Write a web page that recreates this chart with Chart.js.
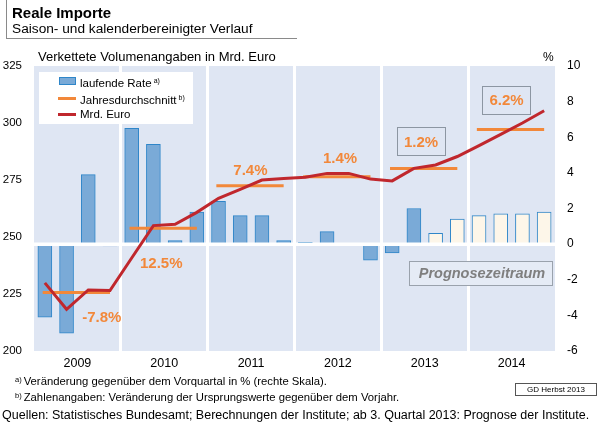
<!DOCTYPE html>
<html lang="de">
<head>
<meta charset="UTF-8">
<title>Reale Importe</title>
<script src="https://cdn.jsdelivr.net/npm/chart.js"></script>
<style>
  body { margin: 0; background: #fff; font-family: Arial, "Liberation Sans", sans-serif; color: #000; }
  #page { position: relative; width: 603px; height: 425px; overflow: hidden; }
  #page canvas { position: absolute; left: 0; top: 0; }
  .abs { position: absolute; white-space: nowrap; }
  .titlebox { left: 6px; top: 0; width: 290px; height: 38px; border-left: 1px solid #8a8a8a; border-bottom: 1px solid #8a8a8a; }
  .title { left: 12px; top: 4px; font-weight: bold; font-size: 15px; }
  .subtitle { left: 12px; top: 21px; font-size: 13.7px; }
  .unitL { left: 38px; top: 49px; font-size: 13px; }
  .unitR { left: 543px; top: 50px; font-size: 12px; }
  #legend { left: 39px; top: 72px; width: 154px; height: 52px; background: #fff; font-size: 11.5px; }
  #legend .row { position: absolute; left: 0; height: 14px; line-height: 14px; }
  #legend sup { font-size: 7px; vertical-align: 4px; margin-left: 2px; }
  .note { left: 15px; font-size: 11.3px; }
  .note sup { font-size: 7.5px; vertical-align: 3px; margin-right: 2px; }
  .src { left: 2px; top: 408px; font-size: 12.5px; }
  .gd { left: 515px; top: 383px; width: 80px; height: 11px; border: 1px solid #555; font-size: 8px; line-height: 11px; text-align: center; }
</style>
</head>
<body>
<div id="page">
  <canvas id="chart" width="603" height="425"></canvas>
  <div class="abs titlebox"></div>
  <div class="abs title">Reale Importe</div>
  <div class="abs subtitle">Saison- und kalenderbereinigter Verlauf</div>
  <div class="abs unitL">Verkettete Volumenangaben in Mrd. Euro</div>
  <div class="abs unitR">%</div>
  <div class="abs" id="legend"></div>
  <div class="abs note" style="top:375px"><sup>a)</sup>Veränderung gegenüber dem Vorquartal in % (rechte Skala).</div>
  <div class="abs note" style="top:391px"><sup>b)</sup>Zahlenangaben: Veränderung der Ursprungswerte gegenüber dem Vorjahr.</div>
  <div class="abs src">Quellen: Statistisches Bundesamt; Berechnungen der Institute; ab 3. Quartal 2013: Prognose der Institute.</div>
  <div class="abs gd">GD Herbst 2013</div>
</div>

<script>
// Daten (Quartale 2009 Q1 bis 2014 Q4)
const years = ['2009', '2010', '2011', '2012', '2013', '2014'];
// laufende Rate in % (rechte Skala)
const rate = [-4.1, -5.0, 3.9, -0.1, 6.5, 5.6, 0.2, 1.8, 2.4, 1.6, 1.6, 0.2,
              0.1, 0.7, 0.0, -0.9, -0.5, 2.0, 0.6, 1.4, 1.6, 1.7, 1.7, 1.8];
// Mrd. Euro (linke Skala)
const level = [229.9, 218.3, 226.8, 226.5, 240.8, 255.0, 255.6, 260.8, 267.0, 270.9, 275.0, 275.7,
               276.2, 277.9, 277.9, 275.4, 274.6, 280.1, 281.6, 285.3, 290.1, 295.0, 300.0, 305.4];
// Jahresdurchschnitt (linke Skala)
const yearAvg = [225.7, 253.8, 272.5, 276.4, 280.0, 297.2];
// Veränderung gegenüber Vorjahr
const yearRate = ['-7.8%', '12.5%', '7.4%', '1.4%', '1.2%', '6.2%'];
const firstForecast = 18; // ab 3. Quartal 2013

const leftTicks = [200, 225, 250, 275, 300, 325];
const rightTicks = [-6, -4, -2, 0, 2, 4, 6, 8, 10];

// Platzierung der Beschriftungen (x in Quartalen, y in Mrd. Euro)
const notePos = [[3.12, 214.9], [5.86, 238.6], [9.97, 279.4], [14.1, 284.9], [17.83, 291.9], [21.77, 310.1]];
const noteBoxed = [false, false, false, false, true, true];

const blue = '#7aaad7';
const blueEdge = '#2f86c9';
const cream = '#fdf6e9';
const orange = '#f2883a';
const red = '#c0272d';
const bg = '#dfe6f3';

const barData = rate.map((v, i) => ({ x: i + 0.5, y: v }));
const lineData = level.map((v, i) => ({ x: i + 0.5, y: v }));
const avgData = [];
yearAvg.forEach((v, k) => {
  avgData.push({ x: k * 4 + 0.4, y: v });
  avgData.push({ x: k * 4 + 3.5, y: v });
  avgData.push({ x: k * 4 + 3.9, y: null });
});

const bgPlugin = {
  id: 'bg',
  beforeDraw(chart) {
    const a = chart.chartArea, ctx = chart.ctx;
    ctx.save();
    ctx.fillStyle = bg;
    ctx.fillRect(a.left, a.top, a.right - a.left, a.bottom - a.top);
    ctx.restore();
  }
};

// weisse Nulllinie zwischen Balken und Linien
const zeroPlugin = {
  id: 'zero',
  afterDatasetDraw(chart, args) {
    if (args.index !== 0) return;
    const a = chart.chartArea, ctx = chart.ctx;
    const y = chart.scales.yR.getPixelForValue(0);
    ctx.save();
    ctx.strokeStyle = '#fff';
    ctx.lineWidth = 3.5;
    ctx.beginPath();
    ctx.moveTo(a.left, y);
    ctx.lineTo(a.right, y);
    ctx.stroke();
    ctx.restore();
  }
};

const notesPlugin = {
  id: 'notes',
  afterDatasetsDraw(chart) {
    const ctx = chart.ctx, sx = chart.scales.x, sy = chart.scales.yL;
    ctx.save();
    ctx.font = 'bold 15px Arial, "Liberation Sans", sans-serif';
    ctx.textAlign = 'center';
    ctx.textBaseline = 'middle';
    yearRate.forEach((t, i) => {
      const px = sx.getPixelForValue(notePos[i][0]);
      const py = sy.getPixelForValue(notePos[i][1]);
      if (noteBoxed[i]) {
        const w = ctx.measureText(t).width + 14;
        ctx.strokeStyle = '#8c96a2';
        ctx.lineWidth = 1;
        ctx.strokeRect(Math.round(px - w / 2) + 0.5, Math.round(py - 14) + 0.5, Math.round(w), 28);
      }
      ctx.fillStyle = orange;
      ctx.fillText(t, px, py + 1);
    });
    // Prognosezeitraum
    const x0 = sx.getPixelForValue(17.29), x1 = sx.getPixelForValue(23.89);
    const y0 = sy.getPixelForValue(239.5), y1 = sy.getPixelForValue(228.9);
    ctx.fillStyle = '#e5ebf5';
    ctx.fillRect(x0, y0, x1 - x0, y1 - y0);
    ctx.strokeStyle = '#9aa2ac';
    ctx.strokeRect(Math.round(x0) + 0.5, Math.round(y0) + 0.5, Math.round(x1 - x0), Math.round(y1 - y0));
    ctx.font = 'italic bold 14.5px Arial, "Liberation Sans", sans-serif';
    ctx.fillStyle = '#7f7f7f';
    ctx.fillText('Prognosezeitraum', (x0 + x1) / 2 + 1, (y0 + y1) / 2 + 1);
    ctx.restore();
  }
};

const chart = new Chart(document.getElementById('chart'), {
  type: 'bar',
  data: {
    datasets: [
      {
        type: 'bar',
        label: 'laufende Rate',
        data: barData,
        yAxisID: 'yR',
        backgroundColor: barData.map((d, i) => i >= firstForecast ? cream : blue),
        borderColor: blueEdge,
        borderWidth: 1,
        barThickness: 14,
        order: 3
      },
      {
        type: 'line',
        label: 'Jahresdurchschnitt',
        data: avgData,
        yAxisID: 'yL',
        borderColor: orange,
        borderWidth: 3,
        pointRadius: 0,
        spanGaps: false,
        order: 2
      },
      {
        type: 'line',
        label: 'Mrd. Euro',
        data: lineData,
        yAxisID: 'yL',
        borderColor: red,
        borderWidth: 3,
        pointRadius: 0,
        tension: 0,
        order: 1
      }
    ]
  },
  options: {
    responsive: false,
    animation: false,
    layout: { padding: { top: 66, bottom: 50, left: 0, right: 0 } },
    plugins: { legend: { display: false }, tooltip: { enabled: false } },
    scales: {
      x: {
        type: 'linear',
        min: 0,
        max: 24,
        offset: false,
        afterBuildTicks: s => { s.ticks = [0, 2, 4, 6, 8, 10, 12, 14, 16, 18, 20, 22, 24].map(v => ({ value: v })); },
        afterFit: s => { s.height = 24; },
        grid: {
          offset: false,
          drawTicks: false,
          lineWidth: 3,
          color: c => (c.tick && c.tick.value % 4 === 0 && c.tick.value > 0 && c.tick.value < 24) ? '#fff' : 'rgba(0,0,0,0)'
        },
        border: { display: false },
        ticks: {
          padding: 5,
          autoSkip: false,
          maxRotation: 0,
          color: '#000',
          font: { family: 'Arial, "Liberation Sans", sans-serif', size: 12.5 },
          callback: v => v % 4 === 2 ? years[(v - 2) / 4] : ''
        }
      },
      yL: {
        position: 'left',
        min: 200,
        max: 325,
        afterBuildTicks: s => { s.ticks = leftTicks.map(v => ({ value: v })); },
        afterFit: s => { s.width = 34; },
        grid: { display: false },
        border: { display: false },
        ticks: { padding: 4, color: '#000', font: { family: 'Arial, "Liberation Sans", sans-serif', size: 11.5 } }
      },
      yR: {
        position: 'right',
        min: -6,
        max: 10,
        afterBuildTicks: s => { s.ticks = rightTicks.map(v => ({ value: v })); },
        afterFit: s => { s.width = 48; },
        grid: { display: false },
        border: { display: false },
        ticks: { padding: 4, color: '#000', font: { family: 'Arial, "Liberation Sans", sans-serif', size: 12 } }
      }
    }
  },
  plugins: [bgPlugin, zeroPlugin, notesPlugin]
});

// Legende
const legendSup = ['a)', 'b)', ''];
const legendBox = document.getElementById('legend');
chart.data.datasets.forEach((ds, i) => {
  const row = document.createElement('div');
  row.className = 'row';
  row.style.top = (2 + i * 16.5) + 'px';
  const sw = document.createElement('span');
  sw.style.cssText = 'position:absolute;left:19px;width:18px;';
  if (ds.type === 'bar') {
    sw.style.top = '3px';
    sw.style.height = '6px';
    sw.style.background = blue;
    sw.style.border = '1px solid ' + blueEdge;
    sw.style.width = '15px';
    sw.style.left = '20px';
  } else {
    sw.style.top = '6px';
    sw.style.height = '3px';
    sw.style.background = ds.borderColor;
  }
  const tx = document.createElement('span');
  tx.style.cssText = 'position:absolute;left:41px;top:0;';
  tx.textContent = ds.label;
  if (legendSup[i]) {
    const s = document.createElement('sup');
    s.textContent = legendSup[i];
    tx.appendChild(s);
  }
  row.appendChild(sw);
  row.appendChild(tx);
  legendBox.appendChild(row);
});
</script>
</body>
</html>
